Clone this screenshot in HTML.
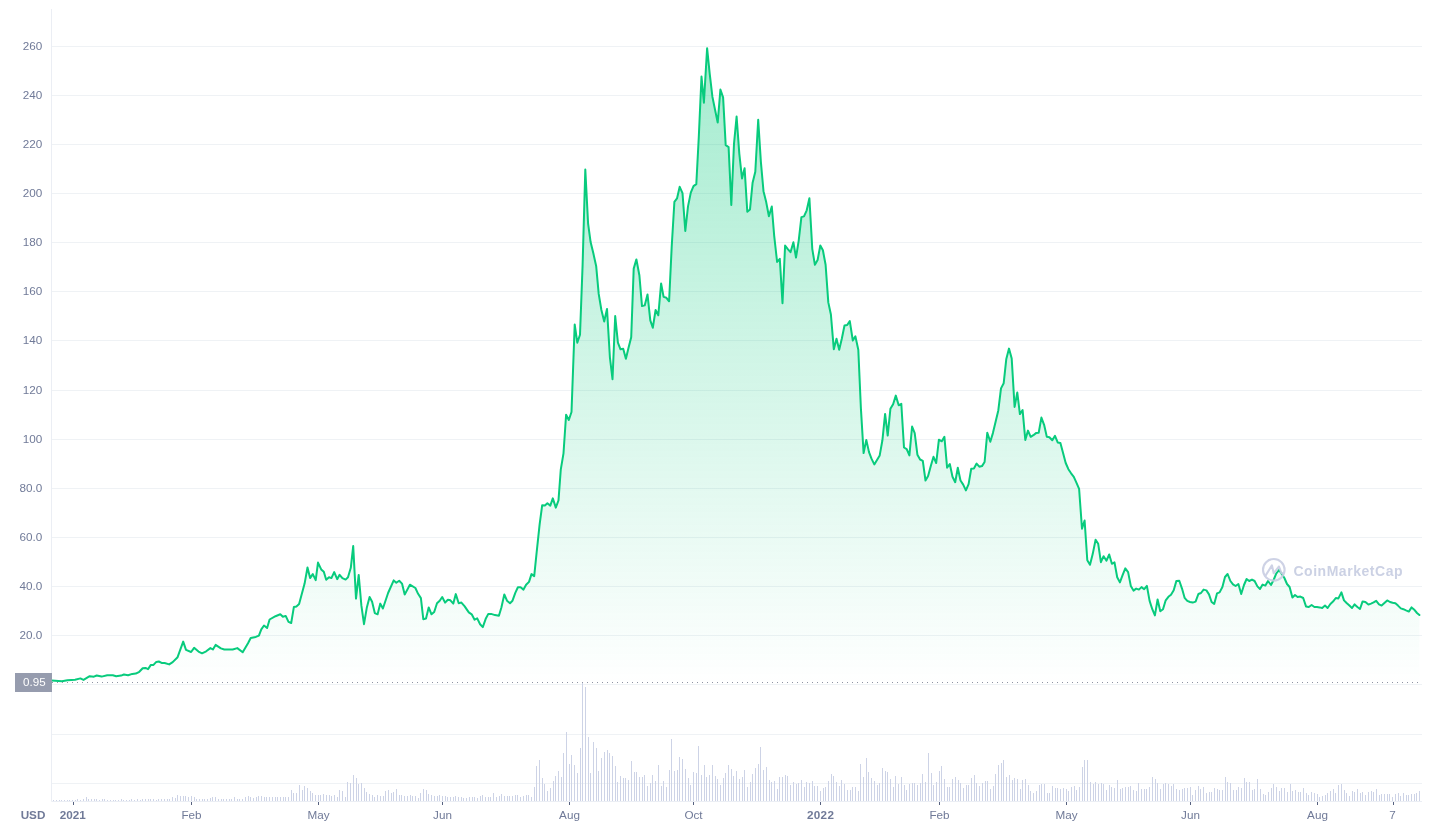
<!DOCTYPE html>
<html lang="en"><head><meta charset="utf-8"><title>Chart</title>
<style>
html,body{margin:0;padding:0;background:#fff;}
body{width:1434px;height:825px;overflow:hidden;position:relative;font-family:"Liberation Sans",sans-serif;}
svg{position:absolute;left:0;top:0;display:block;will-change:transform;}
text{font-family:"Liberation Sans",sans-serif;}
</style></head><body>
<svg width="1434" height="825" viewBox="0 0 1434 825">
<defs><linearGradient id="g" gradientUnits="userSpaceOnUse" x1="0" y1="46" x2="0" y2="684"><stop offset="0" stop-color="#08cb7d" stop-opacity="0.37"/><stop offset="1" stop-color="#08cb7d" stop-opacity="0"/></linearGradient></defs>
<g stroke="#eff2f5" stroke-width="1">
<line x1="51.5" y1="46.5" x2="1422" y2="46.5"/><line x1="51.5" y1="95.5" x2="1422" y2="95.5"/><line x1="51.5" y1="144.5" x2="1422" y2="144.5"/><line x1="51.5" y1="193.5" x2="1422" y2="193.5"/><line x1="51.5" y1="242.5" x2="1422" y2="242.5"/><line x1="51.5" y1="291.5" x2="1422" y2="291.5"/><line x1="51.5" y1="340.5" x2="1422" y2="340.5"/><line x1="51.5" y1="390.5" x2="1422" y2="390.5"/><line x1="51.5" y1="439.5" x2="1422" y2="439.5"/><line x1="51.5" y1="488.5" x2="1422" y2="488.5"/><line x1="51.5" y1="537.5" x2="1422" y2="537.5"/><line x1="51.5" y1="586.5" x2="1422" y2="586.5"/><line x1="51.5" y1="635.5" x2="1422" y2="635.5"/><line x1="51.5" y1="684.5" x2="1422" y2="684.5"/><line x1="51.5" y1="734.5" x2="1422" y2="734.5"/><line x1="51.5" y1="783.5" x2="1422" y2="783.5"/>
</g>
<line x1="51.5" y1="9" x2="51.5" y2="801.5" stroke="#ebeef4" stroke-width="1"/>
<line x1="51.5" y1="801.5" x2="1422" y2="801.5" stroke="#ebeef4" stroke-width="1"/>
<g fill="#cdd3e6" shape-rendering="crispEdges">
<rect x="53" y="800" width="1" height="1"/><rect x="56" y="800" width="1" height="1"/><rect x="59" y="800" width="1" height="1"/><rect x="61" y="800" width="1" height="1"/><rect x="64" y="800" width="1" height="1"/><rect x="67" y="800" width="1" height="1"/><rect x="69" y="800" width="1" height="1"/><rect x="72" y="800" width="1" height="1"/><rect x="75" y="800" width="1" height="1"/><rect x="77" y="799" width="1" height="2"/><rect x="80" y="800" width="1" height="1"/><rect x="83" y="799" width="1" height="2"/><rect x="86" y="797" width="1" height="4"/><rect x="88" y="799" width="1" height="2"/><rect x="91" y="799" width="1" height="2"/><rect x="94" y="799" width="1" height="2"/><rect x="96" y="799" width="1" height="2"/><rect x="99" y="800" width="1" height="1"/><rect x="102" y="799" width="1" height="2"/><rect x="104" y="799" width="1" height="2"/><rect x="107" y="800" width="1" height="1"/><rect x="110" y="800" width="1" height="1"/><rect x="113" y="800" width="1" height="1"/><rect x="115" y="800" width="1" height="1"/><rect x="118" y="800" width="1" height="1"/><rect x="121" y="799" width="1" height="2"/><rect x="123" y="800" width="1" height="1"/><rect x="126" y="800" width="1" height="1"/><rect x="129" y="800" width="1" height="1"/><rect x="131" y="799" width="1" height="2"/><rect x="134" y="800" width="1" height="1"/><rect x="137" y="799" width="1" height="2"/><rect x="140" y="800" width="1" height="1"/><rect x="142" y="799" width="1" height="2"/><rect x="145" y="799" width="1" height="2"/><rect x="148" y="799" width="1" height="2"/><rect x="150" y="799" width="1" height="2"/><rect x="153" y="799" width="1" height="2"/><rect x="156" y="800" width="1" height="1"/><rect x="158" y="799" width="1" height="2"/><rect x="161" y="799" width="1" height="2"/><rect x="164" y="799" width="1" height="2"/><rect x="167" y="799" width="1" height="2"/><rect x="169" y="799" width="1" height="2"/><rect x="172" y="797" width="1" height="4"/><rect x="175" y="798" width="1" height="3"/><rect x="177" y="795" width="1" height="6"/><rect x="180" y="796" width="1" height="5"/><rect x="183" y="796" width="1" height="5"/><rect x="185" y="796" width="1" height="5"/><rect x="188" y="797" width="1" height="4"/><rect x="191" y="796" width="1" height="5"/><rect x="194" y="797" width="1" height="4"/><rect x="196" y="799" width="1" height="2"/><rect x="199" y="799" width="1" height="2"/><rect x="202" y="799" width="1" height="2"/><rect x="204" y="799" width="1" height="2"/><rect x="207" y="799" width="1" height="2"/><rect x="210" y="798" width="1" height="3"/><rect x="212" y="797" width="1" height="4"/><rect x="215" y="797" width="1" height="4"/><rect x="218" y="799" width="1" height="2"/><rect x="221" y="799" width="1" height="2"/><rect x="223" y="799" width="1" height="2"/><rect x="226" y="799" width="1" height="2"/><rect x="229" y="799" width="1" height="2"/><rect x="231" y="799" width="1" height="2"/><rect x="234" y="797" width="1" height="4"/><rect x="237" y="799" width="1" height="2"/><rect x="239" y="799" width="1" height="2"/><rect x="242" y="799" width="1" height="2"/><rect x="245" y="797" width="1" height="4"/><rect x="248" y="796" width="1" height="5"/><rect x="250" y="797" width="1" height="4"/><rect x="253" y="798" width="1" height="3"/><rect x="256" y="797" width="1" height="4"/><rect x="258" y="796" width="1" height="5"/><rect x="261" y="796" width="1" height="5"/><rect x="264" y="797" width="1" height="4"/><rect x="266" y="797" width="1" height="4"/><rect x="269" y="797" width="1" height="4"/><rect x="272" y="797" width="1" height="4"/><rect x="275" y="797" width="1" height="4"/><rect x="277" y="797" width="1" height="4"/><rect x="280" y="797" width="1" height="4"/><rect x="283" y="797" width="1" height="4"/><rect x="285" y="797" width="1" height="4"/><rect x="288" y="797" width="1" height="4"/><rect x="291" y="790" width="1" height="11"/><rect x="293" y="793" width="1" height="8"/><rect x="296" y="793" width="1" height="8"/><rect x="299" y="785" width="1" height="16"/><rect x="302" y="790" width="1" height="11"/><rect x="304" y="786" width="1" height="15"/><rect x="307" y="788" width="1" height="13"/><rect x="310" y="791" width="1" height="10"/><rect x="312" y="793" width="1" height="8"/><rect x="315" y="795" width="1" height="6"/><rect x="318" y="795" width="1" height="6"/><rect x="320" y="795" width="1" height="6"/><rect x="323" y="794" width="1" height="7"/><rect x="326" y="795" width="1" height="6"/><rect x="329" y="795" width="1" height="6"/><rect x="331" y="796" width="1" height="5"/><rect x="334" y="795" width="1" height="6"/><rect x="337" y="797" width="1" height="4"/><rect x="339" y="790" width="1" height="11"/><rect x="342" y="791" width="1" height="10"/><rect x="345" y="797" width="1" height="4"/><rect x="347" y="782" width="1" height="19"/><rect x="350" y="783" width="1" height="18"/><rect x="353" y="775" width="1" height="26"/><rect x="356" y="778" width="1" height="23"/><rect x="358" y="784" width="1" height="17"/><rect x="361" y="783" width="1" height="18"/><rect x="364" y="788" width="1" height="13"/><rect x="366" y="792" width="1" height="9"/><rect x="369" y="794" width="1" height="7"/><rect x="372" y="795" width="1" height="6"/><rect x="374" y="797" width="1" height="4"/><rect x="377" y="795" width="1" height="6"/><rect x="380" y="796" width="1" height="5"/><rect x="383" y="796" width="1" height="5"/><rect x="385" y="791" width="1" height="10"/><rect x="388" y="790" width="1" height="11"/><rect x="391" y="793" width="1" height="8"/><rect x="393" y="792" width="1" height="9"/><rect x="396" y="789" width="1" height="12"/><rect x="399" y="795" width="1" height="6"/><rect x="401" y="795" width="1" height="6"/><rect x="404" y="796" width="1" height="5"/><rect x="407" y="796" width="1" height="5"/><rect x="410" y="795" width="1" height="6"/><rect x="412" y="796" width="1" height="5"/><rect x="415" y="796" width="1" height="5"/><rect x="418" y="798" width="1" height="3"/><rect x="420" y="793" width="1" height="8"/><rect x="423" y="789" width="1" height="12"/><rect x="426" y="790" width="1" height="11"/><rect x="428" y="794" width="1" height="7"/><rect x="431" y="795" width="1" height="6"/><rect x="434" y="796" width="1" height="5"/><rect x="437" y="796" width="1" height="5"/><rect x="439" y="795" width="1" height="6"/><rect x="442" y="796" width="1" height="5"/><rect x="445" y="796" width="1" height="5"/><rect x="447" y="797" width="1" height="4"/><rect x="450" y="797" width="1" height="4"/><rect x="453" y="797" width="1" height="4"/><rect x="455" y="796" width="1" height="5"/><rect x="458" y="797" width="1" height="4"/><rect x="461" y="797" width="1" height="4"/><rect x="463" y="798" width="1" height="3"/><rect x="466" y="798" width="1" height="3"/><rect x="469" y="797" width="1" height="4"/><rect x="472" y="797" width="1" height="4"/><rect x="474" y="797" width="1" height="4"/><rect x="477" y="798" width="1" height="3"/><rect x="480" y="796" width="1" height="5"/><rect x="482" y="795" width="1" height="6"/><rect x="485" y="797" width="1" height="4"/><rect x="488" y="797" width="1" height="4"/><rect x="490" y="797" width="1" height="4"/><rect x="493" y="793" width="1" height="8"/><rect x="496" y="797" width="1" height="4"/><rect x="499" y="796" width="1" height="5"/><rect x="501" y="794" width="1" height="7"/><rect x="504" y="796" width="1" height="5"/><rect x="507" y="796" width="1" height="5"/><rect x="509" y="796" width="1" height="5"/><rect x="512" y="796" width="1" height="5"/><rect x="515" y="795" width="1" height="6"/><rect x="517" y="795" width="1" height="6"/><rect x="520" y="797" width="1" height="4"/><rect x="523" y="796" width="1" height="5"/><rect x="526" y="795" width="1" height="6"/><rect x="528" y="795" width="1" height="6"/><rect x="531" y="797" width="1" height="4"/><rect x="534" y="787" width="1" height="14"/><rect x="536" y="766" width="1" height="35"/><rect x="539" y="760" width="1" height="41"/><rect x="542" y="778" width="1" height="23"/><rect x="544" y="784" width="1" height="17"/><rect x="547" y="791" width="1" height="10"/><rect x="550" y="788" width="1" height="13"/><rect x="553" y="781" width="1" height="20"/><rect x="555" y="776" width="1" height="25"/><rect x="558" y="771" width="1" height="30"/><rect x="561" y="777" width="1" height="24"/><rect x="563" y="753" width="1" height="48"/><rect x="566" y="732" width="1" height="69"/><rect x="569" y="764" width="1" height="37"/><rect x="571" y="755" width="1" height="46"/><rect x="574" y="765" width="1" height="36"/><rect x="577" y="773" width="1" height="28"/><rect x="580" y="748" width="1" height="53"/><rect x="582" y="682" width="1" height="119"/><rect x="585" y="687" width="1" height="114"/><rect x="588" y="737" width="1" height="64"/><rect x="590" y="773" width="1" height="28"/><rect x="593" y="742" width="1" height="59"/><rect x="596" y="748" width="1" height="53"/><rect x="598" y="771" width="1" height="30"/><rect x="601" y="758" width="1" height="43"/><rect x="604" y="752" width="1" height="49"/><rect x="607" y="750" width="1" height="51"/><rect x="609" y="753" width="1" height="48"/><rect x="612" y="756" width="1" height="45"/><rect x="615" y="766" width="1" height="35"/><rect x="617" y="782" width="1" height="19"/><rect x="620" y="776" width="1" height="25"/><rect x="623" y="778" width="1" height="23"/><rect x="625" y="778" width="1" height="23"/><rect x="628" y="780" width="1" height="21"/><rect x="631" y="761" width="1" height="40"/><rect x="634" y="772" width="1" height="29"/><rect x="636" y="772" width="1" height="29"/><rect x="639" y="777" width="1" height="24"/><rect x="642" y="777" width="1" height="24"/><rect x="644" y="775" width="1" height="26"/><rect x="647" y="786" width="1" height="15"/><rect x="650" y="783" width="1" height="18"/><rect x="652" y="775" width="1" height="26"/><rect x="655" y="781" width="1" height="20"/><rect x="658" y="765" width="1" height="36"/><rect x="661" y="786" width="1" height="15"/><rect x="663" y="781" width="1" height="20"/><rect x="666" y="787" width="1" height="14"/><rect x="669" y="770" width="1" height="31"/><rect x="671" y="739" width="1" height="62"/><rect x="674" y="771" width="1" height="30"/><rect x="677" y="770" width="1" height="31"/><rect x="679" y="757" width="1" height="44"/><rect x="682" y="759" width="1" height="42"/><rect x="685" y="769" width="1" height="32"/><rect x="688" y="778" width="1" height="23"/><rect x="690" y="785" width="1" height="16"/><rect x="693" y="772" width="1" height="29"/><rect x="696" y="773" width="1" height="28"/><rect x="698" y="746" width="1" height="55"/><rect x="701" y="775" width="1" height="26"/><rect x="704" y="765" width="1" height="36"/><rect x="706" y="777" width="1" height="24"/><rect x="709" y="775" width="1" height="26"/><rect x="712" y="765" width="1" height="36"/><rect x="715" y="776" width="1" height="25"/><rect x="717" y="779" width="1" height="22"/><rect x="720" y="785" width="1" height="16"/><rect x="723" y="778" width="1" height="23"/><rect x="725" y="773" width="1" height="28"/><rect x="728" y="765" width="1" height="36"/><rect x="731" y="769" width="1" height="32"/><rect x="733" y="776" width="1" height="25"/><rect x="736" y="771" width="1" height="30"/><rect x="739" y="779" width="1" height="22"/><rect x="742" y="777" width="1" height="24"/><rect x="744" y="770" width="1" height="31"/><rect x="747" y="787" width="1" height="14"/><rect x="750" y="782" width="1" height="19"/><rect x="752" y="774" width="1" height="27"/><rect x="755" y="768" width="1" height="33"/><rect x="758" y="764" width="1" height="37"/><rect x="760" y="747" width="1" height="54"/><rect x="763" y="770" width="1" height="31"/><rect x="766" y="767" width="1" height="34"/><rect x="769" y="780" width="1" height="21"/><rect x="771" y="782" width="1" height="19"/><rect x="774" y="781" width="1" height="20"/><rect x="777" y="789" width="1" height="12"/><rect x="779" y="777" width="1" height="24"/><rect x="782" y="777" width="1" height="24"/><rect x="785" y="775" width="1" height="26"/><rect x="787" y="776" width="1" height="25"/><rect x="790" y="785" width="1" height="16"/><rect x="793" y="782" width="1" height="19"/><rect x="796" y="784" width="1" height="17"/><rect x="798" y="783" width="1" height="18"/><rect x="801" y="780" width="1" height="21"/><rect x="804" y="787" width="1" height="14"/><rect x="806" y="782" width="1" height="19"/><rect x="809" y="783" width="1" height="18"/><rect x="812" y="781" width="1" height="20"/><rect x="814" y="786" width="1" height="15"/><rect x="817" y="786" width="1" height="15"/><rect x="820" y="791" width="1" height="10"/><rect x="823" y="788" width="1" height="13"/><rect x="825" y="787" width="1" height="14"/><rect x="828" y="781" width="1" height="20"/><rect x="831" y="774" width="1" height="27"/><rect x="833" y="776" width="1" height="25"/><rect x="836" y="782" width="1" height="19"/><rect x="839" y="786" width="1" height="15"/><rect x="841" y="780" width="1" height="21"/><rect x="844" y="784" width="1" height="17"/><rect x="847" y="790" width="1" height="11"/><rect x="850" y="790" width="1" height="11"/><rect x="852" y="787" width="1" height="14"/><rect x="855" y="787" width="1" height="14"/><rect x="858" y="791" width="1" height="10"/><rect x="860" y="764" width="1" height="37"/><rect x="863" y="777" width="1" height="24"/><rect x="866" y="758" width="1" height="43"/><rect x="868" y="772" width="1" height="29"/><rect x="871" y="778" width="1" height="23"/><rect x="874" y="781" width="1" height="20"/><rect x="877" y="785" width="1" height="16"/><rect x="879" y="783" width="1" height="18"/><rect x="882" y="768" width="1" height="33"/><rect x="885" y="771" width="1" height="30"/><rect x="887" y="772" width="1" height="29"/><rect x="890" y="779" width="1" height="22"/><rect x="893" y="787" width="1" height="14"/><rect x="895" y="776" width="1" height="25"/><rect x="898" y="784" width="1" height="17"/><rect x="901" y="777" width="1" height="24"/><rect x="904" y="785" width="1" height="16"/><rect x="906" y="790" width="1" height="11"/><rect x="909" y="784" width="1" height="17"/><rect x="912" y="783" width="1" height="18"/><rect x="914" y="783" width="1" height="18"/><rect x="917" y="785" width="1" height="16"/><rect x="920" y="783" width="1" height="18"/><rect x="922" y="774" width="1" height="27"/><rect x="925" y="782" width="1" height="19"/><rect x="928" y="753" width="1" height="48"/><rect x="931" y="773" width="1" height="28"/><rect x="933" y="785" width="1" height="16"/><rect x="936" y="782" width="1" height="19"/><rect x="939" y="771" width="1" height="30"/><rect x="941" y="766" width="1" height="35"/><rect x="944" y="779" width="1" height="22"/><rect x="947" y="787" width="1" height="14"/><rect x="949" y="787" width="1" height="14"/><rect x="952" y="779" width="1" height="22"/><rect x="955" y="777" width="1" height="24"/><rect x="958" y="780" width="1" height="21"/><rect x="960" y="783" width="1" height="18"/><rect x="963" y="788" width="1" height="13"/><rect x="966" y="785" width="1" height="16"/><rect x="968" y="785" width="1" height="16"/><rect x="971" y="778" width="1" height="23"/><rect x="974" y="775" width="1" height="26"/><rect x="976" y="783" width="1" height="18"/><rect x="979" y="786" width="1" height="15"/><rect x="982" y="783" width="1" height="18"/><rect x="985" y="781" width="1" height="20"/><rect x="987" y="781" width="1" height="20"/><rect x="990" y="789" width="1" height="12"/><rect x="993" y="786" width="1" height="15"/><rect x="995" y="774" width="1" height="27"/><rect x="998" y="765" width="1" height="36"/><rect x="1001" y="763" width="1" height="38"/><rect x="1003" y="760" width="1" height="41"/><rect x="1006" y="777" width="1" height="24"/><rect x="1009" y="775" width="1" height="26"/><rect x="1012" y="780" width="1" height="21"/><rect x="1014" y="778" width="1" height="23"/><rect x="1017" y="779" width="1" height="22"/><rect x="1020" y="789" width="1" height="12"/><rect x="1022" y="780" width="1" height="21"/><rect x="1025" y="779" width="1" height="22"/><rect x="1028" y="785" width="1" height="16"/><rect x="1030" y="791" width="1" height="10"/><rect x="1033" y="793" width="1" height="8"/><rect x="1036" y="791" width="1" height="10"/><rect x="1039" y="785" width="1" height="16"/><rect x="1041" y="784" width="1" height="17"/><rect x="1044" y="784" width="1" height="17"/><rect x="1047" y="793" width="1" height="8"/><rect x="1049" y="793" width="1" height="8"/><rect x="1052" y="786" width="1" height="15"/><rect x="1055" y="788" width="1" height="13"/><rect x="1057" y="788" width="1" height="13"/><rect x="1060" y="789" width="1" height="12"/><rect x="1063" y="788" width="1" height="13"/><rect x="1066" y="789" width="1" height="12"/><rect x="1068" y="791" width="1" height="10"/><rect x="1071" y="787" width="1" height="14"/><rect x="1074" y="786" width="1" height="15"/><rect x="1076" y="790" width="1" height="11"/><rect x="1079" y="787" width="1" height="14"/><rect x="1082" y="767" width="1" height="34"/><rect x="1084" y="760" width="1" height="41"/><rect x="1087" y="760" width="1" height="41"/><rect x="1090" y="782" width="1" height="19"/><rect x="1093" y="784" width="1" height="17"/><rect x="1095" y="782" width="1" height="19"/><rect x="1098" y="784" width="1" height="17"/><rect x="1101" y="783" width="1" height="18"/><rect x="1103" y="784" width="1" height="17"/><rect x="1106" y="790" width="1" height="11"/><rect x="1109" y="785" width="1" height="16"/><rect x="1111" y="787" width="1" height="14"/><rect x="1114" y="788" width="1" height="13"/><rect x="1117" y="780" width="1" height="21"/><rect x="1120" y="789" width="1" height="12"/><rect x="1122" y="788" width="1" height="13"/><rect x="1125" y="787" width="1" height="14"/><rect x="1128" y="787" width="1" height="14"/><rect x="1130" y="786" width="1" height="15"/><rect x="1133" y="790" width="1" height="11"/><rect x="1136" y="791" width="1" height="10"/><rect x="1138" y="783" width="1" height="18"/><rect x="1141" y="789" width="1" height="12"/><rect x="1144" y="789" width="1" height="12"/><rect x="1146" y="789" width="1" height="12"/><rect x="1149" y="787" width="1" height="14"/><rect x="1152" y="777" width="1" height="24"/><rect x="1155" y="779" width="1" height="22"/><rect x="1157" y="783" width="1" height="18"/><rect x="1160" y="789" width="1" height="12"/><rect x="1163" y="784" width="1" height="17"/><rect x="1165" y="783" width="1" height="18"/><rect x="1168" y="784" width="1" height="17"/><rect x="1171" y="786" width="1" height="15"/><rect x="1173" y="784" width="1" height="17"/><rect x="1176" y="789" width="1" height="12"/><rect x="1179" y="790" width="1" height="11"/><rect x="1182" y="789" width="1" height="12"/><rect x="1184" y="788" width="1" height="13"/><rect x="1187" y="788" width="1" height="13"/><rect x="1190" y="787" width="1" height="14"/><rect x="1192" y="795" width="1" height="6"/><rect x="1195" y="790" width="1" height="11"/><rect x="1198" y="786" width="1" height="15"/><rect x="1200" y="789" width="1" height="12"/><rect x="1203" y="787" width="1" height="14"/><rect x="1206" y="793" width="1" height="8"/><rect x="1209" y="792" width="1" height="9"/><rect x="1211" y="792" width="1" height="9"/><rect x="1214" y="788" width="1" height="13"/><rect x="1217" y="789" width="1" height="12"/><rect x="1219" y="790" width="1" height="11"/><rect x="1222" y="790" width="1" height="11"/><rect x="1225" y="777" width="1" height="24"/><rect x="1227" y="782" width="1" height="19"/><rect x="1230" y="783" width="1" height="18"/><rect x="1233" y="790" width="1" height="11"/><rect x="1236" y="790" width="1" height="11"/><rect x="1238" y="787" width="1" height="14"/><rect x="1241" y="788" width="1" height="13"/><rect x="1244" y="778" width="1" height="23"/><rect x="1246" y="782" width="1" height="19"/><rect x="1249" y="782" width="1" height="19"/><rect x="1252" y="790" width="1" height="11"/><rect x="1254" y="789" width="1" height="12"/><rect x="1257" y="779" width="1" height="22"/><rect x="1260" y="789" width="1" height="12"/><rect x="1263" y="794" width="1" height="7"/><rect x="1265" y="795" width="1" height="6"/><rect x="1268" y="792" width="1" height="9"/><rect x="1271" y="788" width="1" height="13"/><rect x="1273" y="784" width="1" height="17"/><rect x="1276" y="787" width="1" height="14"/><rect x="1279" y="791" width="1" height="10"/><rect x="1281" y="788" width="1" height="13"/><rect x="1284" y="788" width="1" height="13"/><rect x="1287" y="792" width="1" height="9"/><rect x="1290" y="784" width="1" height="17"/><rect x="1292" y="791" width="1" height="10"/><rect x="1295" y="790" width="1" height="11"/><rect x="1298" y="792" width="1" height="9"/><rect x="1300" y="792" width="1" height="9"/><rect x="1303" y="788" width="1" height="13"/><rect x="1306" y="793" width="1" height="8"/><rect x="1308" y="795" width="1" height="6"/><rect x="1311" y="792" width="1" height="9"/><rect x="1314" y="793" width="1" height="8"/><rect x="1317" y="794" width="1" height="7"/><rect x="1319" y="797" width="1" height="4"/><rect x="1322" y="796" width="1" height="5"/><rect x="1325" y="795" width="1" height="6"/><rect x="1327" y="793" width="1" height="8"/><rect x="1330" y="791" width="1" height="10"/><rect x="1333" y="789" width="1" height="12"/><rect x="1335" y="793" width="1" height="8"/><rect x="1338" y="785" width="1" height="16"/><rect x="1341" y="784" width="1" height="17"/><rect x="1344" y="790" width="1" height="11"/><rect x="1346" y="793" width="1" height="8"/><rect x="1349" y="796" width="1" height="5"/><rect x="1352" y="791" width="1" height="10"/><rect x="1354" y="792" width="1" height="9"/><rect x="1357" y="789" width="1" height="12"/><rect x="1360" y="793" width="1" height="8"/><rect x="1362" y="792" width="1" height="9"/><rect x="1365" y="795" width="1" height="6"/><rect x="1368" y="792" width="1" height="9"/><rect x="1371" y="791" width="1" height="10"/><rect x="1373" y="792" width="1" height="9"/><rect x="1376" y="789" width="1" height="12"/><rect x="1379" y="795" width="1" height="6"/><rect x="1381" y="794" width="1" height="7"/><rect x="1384" y="794" width="1" height="7"/><rect x="1387" y="794" width="1" height="7"/><rect x="1389" y="794" width="1" height="7"/><rect x="1392" y="797" width="1" height="4"/><rect x="1395" y="794" width="1" height="7"/><rect x="1398" y="793" width="1" height="8"/><rect x="1400" y="796" width="1" height="5"/><rect x="1403" y="793" width="1" height="8"/><rect x="1406" y="795" width="1" height="6"/><rect x="1408" y="795" width="1" height="6"/><rect x="1411" y="794" width="1" height="7"/><rect x="1414" y="794" width="1" height="7"/><rect x="1416" y="793" width="1" height="8"/><rect x="1419" y="791" width="1" height="10"/>
</g>
<polygon points="51.7,684.5 51.7,680.6 61.9,681.2 67.4,680.3 75.1,679.8 80.4,678.4 83.5,679.9 89.7,676.2 93.9,676.7 96.7,675.5 101.6,676.6 107.2,675.3 112.8,675.3 116.2,676.3 121.1,675.6 123.9,674.5 128.1,675.3 132.3,673.9 135.8,673.6 139.3,671.8 142.7,668.3 145.5,667.9 148.0,669.2 150.7,665.1 153.5,664.9 156.3,661.9 158.8,661.5 161.6,662.9 164.6,663.0 169.2,664.4 172.7,662.1 177.6,657.2 183.2,641.6 186.0,649.9 191.1,652.0 194.1,647.8 198.5,651.6 202.0,653.3 206.2,651.3 210.4,648.1 212.9,649.5 215.6,644.9 220.9,648.4 224.3,649.5 232.7,649.5 237.3,648.1 242.7,652.3 248.0,643.2 250.7,638.0 255.8,636.9 258.9,635.6 261.3,629.3 264.0,625.5 267.1,628.0 269.6,619.5 275.5,616.2 280.3,614.3 282.9,616.7 285.7,615.9 288.5,621.9 291.2,623.0 293.9,606.9 296.4,606.4 299.1,604.1 304.6,583.6 307.5,567.5 310.1,578.1 312.8,574.1 315.7,580.1 318.0,562.6 321.2,569.4 323.8,571.8 326.2,579.8 329.0,577.3 331.4,578.1 334.2,572.1 337.2,579.2 339.6,574.8 342.4,578.1 345.6,579.6 348.0,577.3 350.8,567.8 353.2,546.1 356.0,598.6 358.7,574.9 361.4,605.7 364.0,624.2 366.9,607.2 369.6,597.0 372.1,601.7 374.8,613.1 377.6,614.3 380.3,603.6 382.9,608.5 388.1,593.0 393.7,580.4 396.3,582.8 399.2,580.7 402.0,583.6 404.7,594.6 409.9,584.7 415.4,588.0 418.1,593.8 420.9,598.1 423.3,619.2 426.0,618.6 428.7,607.5 431.5,614.3 434.2,612.0 437.0,603.3 439.7,600.7 442.2,597.0 445.1,602.6 447.9,599.7 450.4,600.3 453.3,603.6 455.8,594.1 458.7,603.2 461.4,602.6 464.5,606.1 468.8,612.4 471.7,614.3 474.6,619.7 477.2,618.4 480.1,624.2 482.8,627.1 485.7,618.8 488.2,614.1 491.1,613.9 495.0,615.1 498.9,615.8 501.4,607.5 504.3,594.5 507.0,600.7 510.0,603.2 512.5,600.7 515.4,592.6 517.9,587.3 520.6,587.3 523.5,589.6 526.1,584.8 529.0,581.9 531.5,574.1 534.2,576.1 536.7,551.8 539.6,524.6 542.2,505.2 544.9,505.6 547.4,503.3 550.3,505.6 552.8,498.4 555.8,507.6 558.5,500.4 560.8,469.3 563.5,453.3 566.1,414.7 568.8,420 571.5,412 574.7,324.5 577.3,342.7 580,334.7 582.6,265.1 585.3,169.6 588.1,223.7 590.6,242.1 593.4,253.6 596.2,266.3 598.7,293.9 601.4,310.0 604.2,321.5 607.0,308.9 609.9,357.3 612.5,379.2 615.2,316 617.9,342.7 620.5,349.3 623.2,348.8 625.9,358.7 628.6,347.5 631.2,337.3 633.7,268.6 636.4,259.4 639.4,275.5 642.0,306.1 644.7,305.4 647.5,294.4 650.3,320.4 652.8,327.8 655.6,310.0 658.3,315.3 661.1,283.5 663.6,296.9 666.4,297.8 669.1,301.3 671.7,246.7 674.4,201.8 677.0,198.4 679.7,186.8 682.5,193.1 685.3,231.0 688.0,206.4 690.8,192.6 693.5,186.1 696.3,184.1 698.8,136.7 701.5,76.5 703.9,102.7 707.1,48.2 709.7,73.6 712.4,96.7 715.1,110.0 717.7,122.6 720.4,89.6 723.1,97.4 725.7,145.2 728.6,147.1 731.3,205.0 734.0,143.9 736.6,116.5 739.3,153.6 742.0,178.4 744.6,168.2 747.3,211.8 750.0,209.4 752.6,182.7 755.3,171.8 758.2,119.7 760.9,162.1 763.5,191.2 766.2,202.1 768.9,216.2 771.8,206.5 774.2,235.8 777.1,261.9 779.8,258.8 782.5,303.2 785.1,245.5 787.8,249.1 790.5,252.2 793.4,242.3 796.0,257.6 798.7,240.6 801.4,217.1 804.0,216.4 806.7,210.3 809.4,198.2 812.3,249.1 814.9,264.8 817.6,260.0 820.3,245.5 822.9,250.3 825.6,264.8 828.3,302.4 830.9,314.5 833.8,349.2 836.5,338.8 839.2,349.7 841.8,338.8 844.5,325.5 847.2,325.0 849.8,321.1 852.8,340.5 855.4,336.4 858.3,349.7 860.9,408.4 863.6,453.1 866.3,439.9 869.0,452.1 871.6,458.9 874.3,464.4 877.0,459.9 879.7,455.4 882.4,440.3 885.1,413.9 887.7,435.6 890.4,408.8 893.1,404.2 895.8,395.6 898.7,405.3 901.3,403.8 904.0,447.5 906.7,449.2 909.4,455.4 912.1,426.5 914.7,433.1 917.4,454.7 920.1,459.5 922.8,460.9 925.5,480.5 928.1,476.0 930.8,466.1 933.5,456.8 936.2,463.0 938.9,439.7 941.8,441.3 944.4,436.8 947.1,467.7 949.8,464.0 952.5,476.8 955.2,482.2 957.8,467.7 960.5,480.5 963.2,484.6 965.9,490.4 968.6,484.2 971.2,468.8 973.9,468.6 976.6,463.6 979.3,466.7 982.0,466.1 984.6,462.0 987.3,432.7 990.3,441.8 992.9,433.1 995.6,421.8 998.3,410.4 1001.0,388.4 1003.7,383.2 1006.3,358.9 1009.0,348.6 1011.7,358.5 1014.6,406.9 1017.3,392.5 1019.9,414.1 1022.6,410.0 1025.3,439.9 1028.0,430.6 1030.7,436.8 1033.4,435.2 1036.0,433.1 1038.7,432.7 1041.4,417.6 1044.1,424.8 1046.8,436.8 1049.4,437.2 1052.3,440.3 1055.0,435.8 1057.7,442.4 1060.4,443.0 1063.0,452.7 1065.7,463.0 1068.4,469.2 1071.1,473.3 1073.8,476.8 1076.4,482.6 1079.1,488.8 1082.0,528.8 1084.6,520.5 1087.3,560.3 1090.0,564.8 1092.7,554.1 1095.6,539.7 1098.2,543.8 1100.9,562.2 1103.6,556.2 1106.5,560.7 1109.2,554.5 1111.9,563.8 1114.5,562.4 1117.2,577.2 1119.9,582.4 1122.6,575.2 1125.3,568.4 1128.1,572.1 1130.8,585.9 1133.5,590.6 1136.2,588.6 1138.9,589.6 1141.5,587.1 1144.2,589.2 1146.9,585.9 1149.6,600.9 1152.3,609.2 1154.9,615.4 1157.6,599.5 1160.3,611.2 1163.0,609.2 1165.7,600.3 1168.4,596.8 1171.0,594.7 1173.7,590.2 1176.4,580.9 1179.3,580.7 1182.0,588.6 1184.6,597.8 1187.3,600.9 1190.0,602.0 1192.7,602.6 1195.6,601.6 1198.4,594.0 1201.0,593.0 1203.6,589.6 1206.4,590.4 1209.0,594.4 1211.6,602.0 1214.2,604.0 1217.0,593.4 1219.6,592.4 1222.4,587.0 1225.0,577.0 1227.6,574.0 1230.4,581.0 1233.0,584.4 1235.6,586.0 1238.4,584.0 1241.2,594.0 1244.0,585.0 1246.6,579.0 1249.2,581.0 1252.0,579.6 1254.6,581.0 1257.4,586.4 1260.0,589.0 1262.6,584.6 1265.4,585.6 1268.0,581.0 1271.0,585.0 1273.6,580.0 1276.2,573.6 1279.0,570.0 1281.6,573.6 1284.4,578.0 1287.0,584.0 1289.6,587.0 1292.4,597.6 1295.0,595.0 1297.6,597.0 1300.4,596.6 1303.2,598.0 1306.0,606.4 1308.8,607.0 1311.6,605.0 1314.4,607.0 1317.0,607.0 1319.6,607.4 1322.2,608.0 1325.0,605.6 1327.6,608.0 1330.4,604.0 1333.0,601.6 1335.8,598.0 1338.4,598.4 1341.4,592.4 1344.0,600.4 1346.6,603.0 1349.4,605.6 1352.0,608.0 1354.6,604.4 1357.4,607.0 1360.0,609.0 1362.6,601.4 1365.4,602.0 1368.4,604.6 1371.0,603.6 1373.6,602.4 1376.2,600.8 1379.0,604.4 1381.6,605.6 1384.4,603.0 1387.2,600.4 1390.0,602.0 1392.6,602.8 1395.4,603.2 1398.0,605.6 1400.8,608.4 1403.4,609.2 1406.0,610.4 1408.8,611.6 1411.6,607.4 1414.0,609.4 1417.0,613.0 1419.4,615.0 1419.4,684.5" fill="url(#g)"/>
<polyline points="51.7,680.6 61.9,681.2 67.4,680.3 75.1,679.8 80.4,678.4 83.5,679.9 89.7,676.2 93.9,676.7 96.7,675.5 101.6,676.6 107.2,675.3 112.8,675.3 116.2,676.3 121.1,675.6 123.9,674.5 128.1,675.3 132.3,673.9 135.8,673.6 139.3,671.8 142.7,668.3 145.5,667.9 148.0,669.2 150.7,665.1 153.5,664.9 156.3,661.9 158.8,661.5 161.6,662.9 164.6,663.0 169.2,664.4 172.7,662.1 177.6,657.2 183.2,641.6 186.0,649.9 191.1,652.0 194.1,647.8 198.5,651.6 202.0,653.3 206.2,651.3 210.4,648.1 212.9,649.5 215.6,644.9 220.9,648.4 224.3,649.5 232.7,649.5 237.3,648.1 242.7,652.3 248.0,643.2 250.7,638.0 255.8,636.9 258.9,635.6 261.3,629.3 264.0,625.5 267.1,628.0 269.6,619.5 275.5,616.2 280.3,614.3 282.9,616.7 285.7,615.9 288.5,621.9 291.2,623.0 293.9,606.9 296.4,606.4 299.1,604.1 304.6,583.6 307.5,567.5 310.1,578.1 312.8,574.1 315.7,580.1 318.0,562.6 321.2,569.4 323.8,571.8 326.2,579.8 329.0,577.3 331.4,578.1 334.2,572.1 337.2,579.2 339.6,574.8 342.4,578.1 345.6,579.6 348.0,577.3 350.8,567.8 353.2,546.1 356.0,598.6 358.7,574.9 361.4,605.7 364.0,624.2 366.9,607.2 369.6,597.0 372.1,601.7 374.8,613.1 377.6,614.3 380.3,603.6 382.9,608.5 388.1,593.0 393.7,580.4 396.3,582.8 399.2,580.7 402.0,583.6 404.7,594.6 409.9,584.7 415.4,588.0 418.1,593.8 420.9,598.1 423.3,619.2 426.0,618.6 428.7,607.5 431.5,614.3 434.2,612.0 437.0,603.3 439.7,600.7 442.2,597.0 445.1,602.6 447.9,599.7 450.4,600.3 453.3,603.6 455.8,594.1 458.7,603.2 461.4,602.6 464.5,606.1 468.8,612.4 471.7,614.3 474.6,619.7 477.2,618.4 480.1,624.2 482.8,627.1 485.7,618.8 488.2,614.1 491.1,613.9 495.0,615.1 498.9,615.8 501.4,607.5 504.3,594.5 507.0,600.7 510.0,603.2 512.5,600.7 515.4,592.6 517.9,587.3 520.6,587.3 523.5,589.6 526.1,584.8 529.0,581.9 531.5,574.1 534.2,576.1 536.7,551.8 539.6,524.6 542.2,505.2 544.9,505.6 547.4,503.3 550.3,505.6 552.8,498.4 555.8,507.6 558.5,500.4 560.8,469.3 563.5,453.3 566.1,414.7 568.8,420 571.5,412 574.7,324.5 577.3,342.7 580,334.7 582.6,265.1 585.3,169.6 588.1,223.7 590.6,242.1 593.4,253.6 596.2,266.3 598.7,293.9 601.4,310.0 604.2,321.5 607.0,308.9 609.9,357.3 612.5,379.2 615.2,316 617.9,342.7 620.5,349.3 623.2,348.8 625.9,358.7 628.6,347.5 631.2,337.3 633.7,268.6 636.4,259.4 639.4,275.5 642.0,306.1 644.7,305.4 647.5,294.4 650.3,320.4 652.8,327.8 655.6,310.0 658.3,315.3 661.1,283.5 663.6,296.9 666.4,297.8 669.1,301.3 671.7,246.7 674.4,201.8 677.0,198.4 679.7,186.8 682.5,193.1 685.3,231.0 688.0,206.4 690.8,192.6 693.5,186.1 696.3,184.1 698.8,136.7 701.5,76.5 703.9,102.7 707.1,48.2 709.7,73.6 712.4,96.7 715.1,110.0 717.7,122.6 720.4,89.6 723.1,97.4 725.7,145.2 728.6,147.1 731.3,205.0 734.0,143.9 736.6,116.5 739.3,153.6 742.0,178.4 744.6,168.2 747.3,211.8 750.0,209.4 752.6,182.7 755.3,171.8 758.2,119.7 760.9,162.1 763.5,191.2 766.2,202.1 768.9,216.2 771.8,206.5 774.2,235.8 777.1,261.9 779.8,258.8 782.5,303.2 785.1,245.5 787.8,249.1 790.5,252.2 793.4,242.3 796.0,257.6 798.7,240.6 801.4,217.1 804.0,216.4 806.7,210.3 809.4,198.2 812.3,249.1 814.9,264.8 817.6,260.0 820.3,245.5 822.9,250.3 825.6,264.8 828.3,302.4 830.9,314.5 833.8,349.2 836.5,338.8 839.2,349.7 841.8,338.8 844.5,325.5 847.2,325.0 849.8,321.1 852.8,340.5 855.4,336.4 858.3,349.7 860.9,408.4 863.6,453.1 866.3,439.9 869.0,452.1 871.6,458.9 874.3,464.4 877.0,459.9 879.7,455.4 882.4,440.3 885.1,413.9 887.7,435.6 890.4,408.8 893.1,404.2 895.8,395.6 898.7,405.3 901.3,403.8 904.0,447.5 906.7,449.2 909.4,455.4 912.1,426.5 914.7,433.1 917.4,454.7 920.1,459.5 922.8,460.9 925.5,480.5 928.1,476.0 930.8,466.1 933.5,456.8 936.2,463.0 938.9,439.7 941.8,441.3 944.4,436.8 947.1,467.7 949.8,464.0 952.5,476.8 955.2,482.2 957.8,467.7 960.5,480.5 963.2,484.6 965.9,490.4 968.6,484.2 971.2,468.8 973.9,468.6 976.6,463.6 979.3,466.7 982.0,466.1 984.6,462.0 987.3,432.7 990.3,441.8 992.9,433.1 995.6,421.8 998.3,410.4 1001.0,388.4 1003.7,383.2 1006.3,358.9 1009.0,348.6 1011.7,358.5 1014.6,406.9 1017.3,392.5 1019.9,414.1 1022.6,410.0 1025.3,439.9 1028.0,430.6 1030.7,436.8 1033.4,435.2 1036.0,433.1 1038.7,432.7 1041.4,417.6 1044.1,424.8 1046.8,436.8 1049.4,437.2 1052.3,440.3 1055.0,435.8 1057.7,442.4 1060.4,443.0 1063.0,452.7 1065.7,463.0 1068.4,469.2 1071.1,473.3 1073.8,476.8 1076.4,482.6 1079.1,488.8 1082.0,528.8 1084.6,520.5 1087.3,560.3 1090.0,564.8 1092.7,554.1 1095.6,539.7 1098.2,543.8 1100.9,562.2 1103.6,556.2 1106.5,560.7 1109.2,554.5 1111.9,563.8 1114.5,562.4 1117.2,577.2 1119.9,582.4 1122.6,575.2 1125.3,568.4 1128.1,572.1 1130.8,585.9 1133.5,590.6 1136.2,588.6 1138.9,589.6 1141.5,587.1 1144.2,589.2 1146.9,585.9 1149.6,600.9 1152.3,609.2 1154.9,615.4 1157.6,599.5 1160.3,611.2 1163.0,609.2 1165.7,600.3 1168.4,596.8 1171.0,594.7 1173.7,590.2 1176.4,580.9 1179.3,580.7 1182.0,588.6 1184.6,597.8 1187.3,600.9 1190.0,602.0 1192.7,602.6 1195.6,601.6 1198.4,594.0 1201.0,593.0 1203.6,589.6 1206.4,590.4 1209.0,594.4 1211.6,602.0 1214.2,604.0 1217.0,593.4 1219.6,592.4 1222.4,587.0 1225.0,577.0 1227.6,574.0 1230.4,581.0 1233.0,584.4 1235.6,586.0 1238.4,584.0 1241.2,594.0 1244.0,585.0 1246.6,579.0 1249.2,581.0 1252.0,579.6 1254.6,581.0 1257.4,586.4 1260.0,589.0 1262.6,584.6 1265.4,585.6 1268.0,581.0 1271.0,585.0 1273.6,580.0 1276.2,573.6 1279.0,570.0 1281.6,573.6 1284.4,578.0 1287.0,584.0 1289.6,587.0 1292.4,597.6 1295.0,595.0 1297.6,597.0 1300.4,596.6 1303.2,598.0 1306.0,606.4 1308.8,607.0 1311.6,605.0 1314.4,607.0 1317.0,607.0 1319.6,607.4 1322.2,608.0 1325.0,605.6 1327.6,608.0 1330.4,604.0 1333.0,601.6 1335.8,598.0 1338.4,598.4 1341.4,592.4 1344.0,600.4 1346.6,603.0 1349.4,605.6 1352.0,608.0 1354.6,604.4 1357.4,607.0 1360.0,609.0 1362.6,601.4 1365.4,602.0 1368.4,604.6 1371.0,603.6 1373.6,602.4 1376.2,600.8 1379.0,604.4 1381.6,605.6 1384.4,603.0 1387.2,600.4 1390.0,602.0 1392.6,602.8 1395.4,603.2 1398.0,605.6 1400.8,608.4 1403.4,609.2 1406.0,610.4 1408.8,611.6 1411.6,607.4 1414.0,609.4 1417.0,613.0 1419.4,615.0" fill="none" stroke="#08cb7d" stroke-width="2" stroke-linejoin="round" stroke-linecap="round"/>
<g opacity="0.9">
<circle cx="1273.8" cy="569.8" r="10.8" fill="none" stroke="#c9cee3" stroke-width="2.1"/>
<path d="M1265.3 576 L1271.9 565.3 L1273.7 573.3 L1279 566.5 L1281.5 573.3 L1284 572.7" fill="none" stroke="#c9cee3" stroke-width="2.1" stroke-linecap="round" stroke-linejoin="round"/>
<text x="1293.4" y="575.6" font-size="14" font-weight="bold" fill="#c6cce1" letter-spacing="0.54">CoinMarketCap</text>
</g>
<g fill="#8e93a3">
<rect x="52.0" y="682" width="1" height="1"/><rect x="57.0" y="682" width="1" height="1"/><rect x="62.0" y="682" width="1" height="1"/><rect x="67.0" y="682" width="1" height="1"/><rect x="72.0" y="682" width="1" height="1"/><rect x="77.0" y="682" width="1" height="1"/><rect x="82.0" y="682" width="1" height="1"/><rect x="87.0" y="682" width="1" height="1"/><rect x="92.0" y="682" width="1" height="1"/><rect x="97.0" y="682" width="1" height="1"/><rect x="102.0" y="682" width="1" height="1"/><rect x="107.0" y="682" width="1" height="1"/><rect x="112.0" y="682" width="1" height="1"/><rect x="117.0" y="682" width="1" height="1"/><rect x="122.0" y="682" width="1" height="1"/><rect x="127.0" y="682" width="1" height="1"/><rect x="132.0" y="682" width="1" height="1"/><rect x="137.0" y="682" width="1" height="1"/><rect x="142.0" y="682" width="1" height="1"/><rect x="147.0" y="682" width="1" height="1"/><rect x="152.0" y="682" width="1" height="1"/><rect x="157.0" y="682" width="1" height="1"/><rect x="162.0" y="682" width="1" height="1"/><rect x="167.0" y="682" width="1" height="1"/><rect x="172.0" y="682" width="1" height="1"/><rect x="177.0" y="682" width="1" height="1"/><rect x="182.0" y="682" width="1" height="1"/><rect x="187.0" y="682" width="1" height="1"/><rect x="192.0" y="682" width="1" height="1"/><rect x="197.0" y="682" width="1" height="1"/><rect x="202.0" y="682" width="1" height="1"/><rect x="207.0" y="682" width="1" height="1"/><rect x="212.0" y="682" width="1" height="1"/><rect x="217.0" y="682" width="1" height="1"/><rect x="222.0" y="682" width="1" height="1"/><rect x="227.0" y="682" width="1" height="1"/><rect x="232.0" y="682" width="1" height="1"/><rect x="237.0" y="682" width="1" height="1"/><rect x="242.0" y="682" width="1" height="1"/><rect x="247.0" y="682" width="1" height="1"/><rect x="252.0" y="682" width="1" height="1"/><rect x="257.0" y="682" width="1" height="1"/><rect x="262.0" y="682" width="1" height="1"/><rect x="267.0" y="682" width="1" height="1"/><rect x="272.0" y="682" width="1" height="1"/><rect x="277.0" y="682" width="1" height="1"/><rect x="282.0" y="682" width="1" height="1"/><rect x="287.0" y="682" width="1" height="1"/><rect x="292.0" y="682" width="1" height="1"/><rect x="297.0" y="682" width="1" height="1"/><rect x="302.0" y="682" width="1" height="1"/><rect x="307.0" y="682" width="1" height="1"/><rect x="312.0" y="682" width="1" height="1"/><rect x="317.0" y="682" width="1" height="1"/><rect x="322.0" y="682" width="1" height="1"/><rect x="327.0" y="682" width="1" height="1"/><rect x="332.0" y="682" width="1" height="1"/><rect x="337.0" y="682" width="1" height="1"/><rect x="342.0" y="682" width="1" height="1"/><rect x="347.0" y="682" width="1" height="1"/><rect x="352.0" y="682" width="1" height="1"/><rect x="357.0" y="682" width="1" height="1"/><rect x="362.0" y="682" width="1" height="1"/><rect x="367.0" y="682" width="1" height="1"/><rect x="372.0" y="682" width="1" height="1"/><rect x="377.0" y="682" width="1" height="1"/><rect x="382.0" y="682" width="1" height="1"/><rect x="387.0" y="682" width="1" height="1"/><rect x="392.0" y="682" width="1" height="1"/><rect x="397.0" y="682" width="1" height="1"/><rect x="402.0" y="682" width="1" height="1"/><rect x="407.0" y="682" width="1" height="1"/><rect x="412.0" y="682" width="1" height="1"/><rect x="417.0" y="682" width="1" height="1"/><rect x="422.0" y="682" width="1" height="1"/><rect x="427.0" y="682" width="1" height="1"/><rect x="432.0" y="682" width="1" height="1"/><rect x="437.0" y="682" width="1" height="1"/><rect x="442.0" y="682" width="1" height="1"/><rect x="447.0" y="682" width="1" height="1"/><rect x="452.0" y="682" width="1" height="1"/><rect x="457.0" y="682" width="1" height="1"/><rect x="462.0" y="682" width="1" height="1"/><rect x="467.0" y="682" width="1" height="1"/><rect x="472.0" y="682" width="1" height="1"/><rect x="477.0" y="682" width="1" height="1"/><rect x="482.0" y="682" width="1" height="1"/><rect x="487.0" y="682" width="1" height="1"/><rect x="492.0" y="682" width="1" height="1"/><rect x="497.0" y="682" width="1" height="1"/><rect x="502.0" y="682" width="1" height="1"/><rect x="507.0" y="682" width="1" height="1"/><rect x="512.0" y="682" width="1" height="1"/><rect x="517.0" y="682" width="1" height="1"/><rect x="522.0" y="682" width="1" height="1"/><rect x="527.0" y="682" width="1" height="1"/><rect x="532.0" y="682" width="1" height="1"/><rect x="537.0" y="682" width="1" height="1"/><rect x="542.0" y="682" width="1" height="1"/><rect x="547.0" y="682" width="1" height="1"/><rect x="552.0" y="682" width="1" height="1"/><rect x="557.0" y="682" width="1" height="1"/><rect x="562.0" y="682" width="1" height="1"/><rect x="567.0" y="682" width="1" height="1"/><rect x="572.0" y="682" width="1" height="1"/><rect x="577.0" y="682" width="1" height="1"/><rect x="582.0" y="682" width="1" height="1"/><rect x="587.0" y="682" width="1" height="1"/><rect x="592.0" y="682" width="1" height="1"/><rect x="597.0" y="682" width="1" height="1"/><rect x="602.0" y="682" width="1" height="1"/><rect x="607.0" y="682" width="1" height="1"/><rect x="612.0" y="682" width="1" height="1"/><rect x="617.0" y="682" width="1" height="1"/><rect x="622.0" y="682" width="1" height="1"/><rect x="627.0" y="682" width="1" height="1"/><rect x="632.0" y="682" width="1" height="1"/><rect x="637.0" y="682" width="1" height="1"/><rect x="642.0" y="682" width="1" height="1"/><rect x="647.0" y="682" width="1" height="1"/><rect x="652.0" y="682" width="1" height="1"/><rect x="657.0" y="682" width="1" height="1"/><rect x="662.0" y="682" width="1" height="1"/><rect x="667.0" y="682" width="1" height="1"/><rect x="672.0" y="682" width="1" height="1"/><rect x="677.0" y="682" width="1" height="1"/><rect x="682.0" y="682" width="1" height="1"/><rect x="687.0" y="682" width="1" height="1"/><rect x="692.0" y="682" width="1" height="1"/><rect x="697.0" y="682" width="1" height="1"/><rect x="702.0" y="682" width="1" height="1"/><rect x="707.0" y="682" width="1" height="1"/><rect x="712.0" y="682" width="1" height="1"/><rect x="717.0" y="682" width="1" height="1"/><rect x="722.0" y="682" width="1" height="1"/><rect x="727.0" y="682" width="1" height="1"/><rect x="732.0" y="682" width="1" height="1"/><rect x="737.0" y="682" width="1" height="1"/><rect x="742.0" y="682" width="1" height="1"/><rect x="747.0" y="682" width="1" height="1"/><rect x="752.0" y="682" width="1" height="1"/><rect x="757.0" y="682" width="1" height="1"/><rect x="762.0" y="682" width="1" height="1"/><rect x="767.0" y="682" width="1" height="1"/><rect x="772.0" y="682" width="1" height="1"/><rect x="777.0" y="682" width="1" height="1"/><rect x="782.0" y="682" width="1" height="1"/><rect x="787.0" y="682" width="1" height="1"/><rect x="792.0" y="682" width="1" height="1"/><rect x="797.0" y="682" width="1" height="1"/><rect x="802.0" y="682" width="1" height="1"/><rect x="807.0" y="682" width="1" height="1"/><rect x="812.0" y="682" width="1" height="1"/><rect x="817.0" y="682" width="1" height="1"/><rect x="822.0" y="682" width="1" height="1"/><rect x="827.0" y="682" width="1" height="1"/><rect x="832.0" y="682" width="1" height="1"/><rect x="837.0" y="682" width="1" height="1"/><rect x="842.0" y="682" width="1" height="1"/><rect x="847.0" y="682" width="1" height="1"/><rect x="852.0" y="682" width="1" height="1"/><rect x="857.0" y="682" width="1" height="1"/><rect x="862.0" y="682" width="1" height="1"/><rect x="867.0" y="682" width="1" height="1"/><rect x="872.0" y="682" width="1" height="1"/><rect x="877.0" y="682" width="1" height="1"/><rect x="882.0" y="682" width="1" height="1"/><rect x="887.0" y="682" width="1" height="1"/><rect x="892.0" y="682" width="1" height="1"/><rect x="897.0" y="682" width="1" height="1"/><rect x="902.0" y="682" width="1" height="1"/><rect x="907.0" y="682" width="1" height="1"/><rect x="912.0" y="682" width="1" height="1"/><rect x="917.0" y="682" width="1" height="1"/><rect x="922.0" y="682" width="1" height="1"/><rect x="927.0" y="682" width="1" height="1"/><rect x="932.0" y="682" width="1" height="1"/><rect x="937.0" y="682" width="1" height="1"/><rect x="942.0" y="682" width="1" height="1"/><rect x="947.0" y="682" width="1" height="1"/><rect x="952.0" y="682" width="1" height="1"/><rect x="957.0" y="682" width="1" height="1"/><rect x="962.0" y="682" width="1" height="1"/><rect x="967.0" y="682" width="1" height="1"/><rect x="972.0" y="682" width="1" height="1"/><rect x="977.0" y="682" width="1" height="1"/><rect x="982.0" y="682" width="1" height="1"/><rect x="987.0" y="682" width="1" height="1"/><rect x="992.0" y="682" width="1" height="1"/><rect x="997.0" y="682" width="1" height="1"/><rect x="1002.0" y="682" width="1" height="1"/><rect x="1007.0" y="682" width="1" height="1"/><rect x="1012.0" y="682" width="1" height="1"/><rect x="1017.0" y="682" width="1" height="1"/><rect x="1022.0" y="682" width="1" height="1"/><rect x="1027.0" y="682" width="1" height="1"/><rect x="1032.0" y="682" width="1" height="1"/><rect x="1037.0" y="682" width="1" height="1"/><rect x="1042.0" y="682" width="1" height="1"/><rect x="1047.0" y="682" width="1" height="1"/><rect x="1052.0" y="682" width="1" height="1"/><rect x="1057.0" y="682" width="1" height="1"/><rect x="1062.0" y="682" width="1" height="1"/><rect x="1067.0" y="682" width="1" height="1"/><rect x="1072.0" y="682" width="1" height="1"/><rect x="1077.0" y="682" width="1" height="1"/><rect x="1082.0" y="682" width="1" height="1"/><rect x="1087.0" y="682" width="1" height="1"/><rect x="1092.0" y="682" width="1" height="1"/><rect x="1097.0" y="682" width="1" height="1"/><rect x="1102.0" y="682" width="1" height="1"/><rect x="1107.0" y="682" width="1" height="1"/><rect x="1112.0" y="682" width="1" height="1"/><rect x="1117.0" y="682" width="1" height="1"/><rect x="1122.0" y="682" width="1" height="1"/><rect x="1127.0" y="682" width="1" height="1"/><rect x="1132.0" y="682" width="1" height="1"/><rect x="1137.0" y="682" width="1" height="1"/><rect x="1142.0" y="682" width="1" height="1"/><rect x="1147.0" y="682" width="1" height="1"/><rect x="1152.0" y="682" width="1" height="1"/><rect x="1157.0" y="682" width="1" height="1"/><rect x="1162.0" y="682" width="1" height="1"/><rect x="1167.0" y="682" width="1" height="1"/><rect x="1172.0" y="682" width="1" height="1"/><rect x="1177.0" y="682" width="1" height="1"/><rect x="1182.0" y="682" width="1" height="1"/><rect x="1187.0" y="682" width="1" height="1"/><rect x="1192.0" y="682" width="1" height="1"/><rect x="1197.0" y="682" width="1" height="1"/><rect x="1202.0" y="682" width="1" height="1"/><rect x="1207.0" y="682" width="1" height="1"/><rect x="1212.0" y="682" width="1" height="1"/><rect x="1217.0" y="682" width="1" height="1"/><rect x="1222.0" y="682" width="1" height="1"/><rect x="1227.0" y="682" width="1" height="1"/><rect x="1232.0" y="682" width="1" height="1"/><rect x="1237.0" y="682" width="1" height="1"/><rect x="1242.0" y="682" width="1" height="1"/><rect x="1247.0" y="682" width="1" height="1"/><rect x="1252.0" y="682" width="1" height="1"/><rect x="1257.0" y="682" width="1" height="1"/><rect x="1262.0" y="682" width="1" height="1"/><rect x="1267.0" y="682" width="1" height="1"/><rect x="1272.0" y="682" width="1" height="1"/><rect x="1277.0" y="682" width="1" height="1"/><rect x="1282.0" y="682" width="1" height="1"/><rect x="1287.0" y="682" width="1" height="1"/><rect x="1292.0" y="682" width="1" height="1"/><rect x="1297.0" y="682" width="1" height="1"/><rect x="1302.0" y="682" width="1" height="1"/><rect x="1307.0" y="682" width="1" height="1"/><rect x="1312.0" y="682" width="1" height="1"/><rect x="1317.0" y="682" width="1" height="1"/><rect x="1322.0" y="682" width="1" height="1"/><rect x="1327.0" y="682" width="1" height="1"/><rect x="1332.0" y="682" width="1" height="1"/><rect x="1337.0" y="682" width="1" height="1"/><rect x="1342.0" y="682" width="1" height="1"/><rect x="1347.0" y="682" width="1" height="1"/><rect x="1352.0" y="682" width="1" height="1"/><rect x="1357.0" y="682" width="1" height="1"/><rect x="1362.0" y="682" width="1" height="1"/><rect x="1367.0" y="682" width="1" height="1"/><rect x="1372.0" y="682" width="1" height="1"/><rect x="1377.0" y="682" width="1" height="1"/><rect x="1382.0" y="682" width="1" height="1"/><rect x="1387.0" y="682" width="1" height="1"/><rect x="1392.0" y="682" width="1" height="1"/><rect x="1397.0" y="682" width="1" height="1"/><rect x="1402.0" y="682" width="1" height="1"/><rect x="1407.0" y="682" width="1" height="1"/><rect x="1412.0" y="682" width="1" height="1"/><rect x="1417.0" y="682" width="1" height="1"/>
</g>
<rect x="15" y="673" width="37" height="19" fill="#969cae"/>
<text x="45.7" y="685.9" font-size="11.6" fill="#fff" text-anchor="end">0.95</text>
<g font-size="11.7" fill="#707a98" text-anchor="end">
<text x="42.3" y="50.0">260</text><text x="42.3" y="99.0">240</text><text x="42.3" y="148.0">220</text><text x="42.3" y="197.0">200</text><text x="42.3" y="246.0">180</text><text x="42.3" y="295.0">160</text><text x="42.3" y="344.0">140</text><text x="42.3" y="394.0">120</text><text x="42.3" y="443.0">100</text><text x="42.3" y="492.0">80.0</text><text x="42.3" y="541.0">60.0</text><text x="42.3" y="590.0">40.0</text><text x="42.3" y="639.0">20.0</text>
</g>
<g fill="#56617f" shape-rendering="crispEdges">
<rect x="73.0" y="802" width="1" height="3"/><rect x="191.0" y="802" width="1" height="3"/><rect x="318.0" y="802" width="1" height="3"/><rect x="442.0" y="802" width="1" height="3"/><rect x="569.0" y="802" width="1" height="3"/><rect x="693.0" y="802" width="1" height="3"/><rect x="820.0" y="802" width="1" height="3"/><rect x="939.0" y="802" width="1" height="3"/><rect x="1066.0" y="802" width="1" height="3"/><rect x="1190.0" y="802" width="1" height="3"/><rect x="1317.0" y="802" width="1" height="3"/><rect x="1393.0" y="802" width="1" height="3"/>
</g>
<g font-size="11.7" fill="#707a98" text-anchor="middle">
<text x="72.7" y="819.2" font-weight="bold">2021</text><text x="191.5" y="819.2">Feb</text><text x="318.5" y="819.2">May</text><text x="442.5" y="819.2">Jun</text><text x="569.5" y="819.2">Aug</text><text x="693.5" y="819.2">Oct</text><text x="820.6" y="819.2" font-weight="bold" letter-spacing="0.35">2022</text><text x="939.5" y="819.2">Feb</text><text x="1066.5" y="819.2">May</text><text x="1190.5" y="819.2">Jun</text><text x="1317.5" y="819.2">Aug</text><text x="1392.4" y="819.2">7</text><text x="33" y="819.2" font-weight="bold">USD</text>
</g>
</svg>
</body></html>
